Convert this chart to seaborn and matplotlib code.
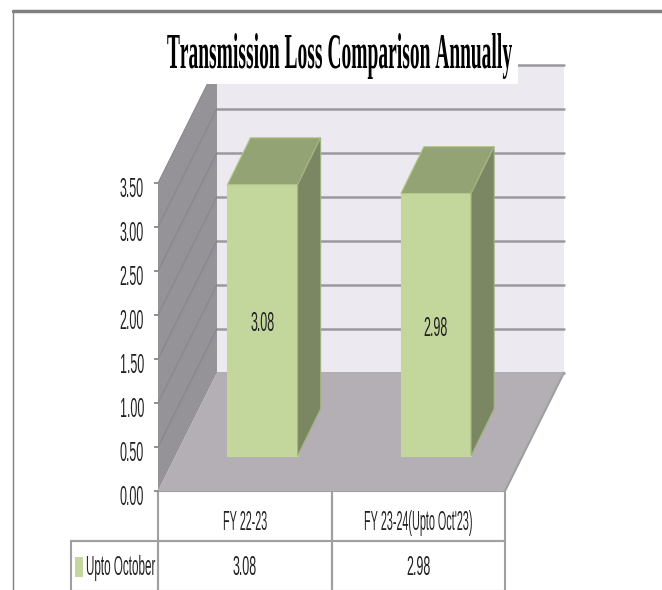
import os
import tempfile

import pandas as pd
import seaborn as sns
import matplotlib.pyplot as plt
from fontTools.ttLib import TTFont
from matplotlib import font_manager
from matplotlib.font_manager import FontProperties
from matplotlib.lines import Line2D
from matplotlib.patches import Polygon, Rectangle
from matplotlib.transforms import Affine2D, ScaledTranslation

title = "Transmission Loss Comparison Annually"
categories = ["FY 22-23", "FY 23-24(Upto Oct'23)"]
values = [3.08, 2.98]
value_labels = ["3.08", "2.98"]
series_name = "Upto October"
y_ticks = [0.0, 0.5, 1.0, 1.5, 2.0, 2.5, 3.0, 3.5]

# fake 3D depth, in data units
WALL_DX, WALL_DY = 0.34, 1.345
BAR_DX, BAR_DY = 0.133, 0.534
BAR_BASE = 0.40
BAR_W = 0.405

FW, FH = 662, 590


def squeezed_font(prop, sx):
    # the original text is squashed sideways, no installed font is that narrow
    font = TTFont(font_manager.findfont(prop))
    glyf, hmtx = font["glyf"], font["hmtx"]
    for name in font.getGlyphOrder():
        glyph = glyf[name]
        if glyph.isComposite():
            for comp in glyph.components:
                comp.x = round(comp.x * sx)
        elif glyph.numberOfContours > 0:
            glyph.coordinates.scale((sx, 1))
            glyph.coordinates.toInt()
        adv, lsb = hmtx[name]
        hmtx[name] = (round(adv * sx), round(lsb * sx))
    for tag in ("kern", "GPOS", "fpgm", "prep", "cvt ", "hdmx", "VDMX", "LTSH"):
        if tag in font:
            del font[tag]
    path = os.path.join(tempfile.mkdtemp(), "squeezed.ttf")
    font.save(path)
    return path


sans = FontProperties(family="Liberation Sans")
label_font = FontProperties(fname=squeezed_font(sans, 0.45), size=20)
series_font = FontProperties(fname=squeezed_font(sans, 0.42), size=20)
header_font = FontProperties(fname=squeezed_font(sans, 0.39), size=20)
title_font = FontProperties(fname=squeezed_font(FontProperties(family="Liberation Serif", weight="bold"), 0.39),
                            size=36)

sns.set_style("white")

fig = plt.figure(figsize=(FW / 100, FH / 100), dpi=100)
ax = fig.add_axes([158 / FW, 1 - 491 / FH, 347 / FW, 308 / FH])
ax.patch.set_alpha(0)

df = pd.DataFrame({"category": categories, "value": values})
sns.barplot(data=df, x="category", y="value", color="#c3d69b", saturation=1,
            width=BAR_W, bottom=BAR_BASE, edgecolor="#c3d69b", linewidth=0.8,
            zorder=5, ax=ax)

x0, x1 = -0.602, 1.398
y0, y1 = 0, y_ticks[-1]
ax.set_xlim(x0, x1)
ax.set_ylim(y0, y1)

# walls and floor
ax.add_patch(Polygon([(x0 + WALL_DX, WALL_DY), (x1 + WALL_DX, WALL_DY),
                      (x1 + WALL_DX, y1 + WALL_DY), (x0 + WALL_DX, y1 + WALL_DY)],
                     fc="#ece9f1", ec="none", clip_on=False, zorder=1))
ax.add_patch(Polygon([(x0, y0), (x0 + WALL_DX, WALL_DY),
                      (x0 + WALL_DX, y1 + WALL_DY), (x0, y1)],
                     fc="#959398", ec="none", clip_on=False, zorder=1))
ax.add_patch(Polygon([(x0, y0), (x1, y0), (x1 + WALL_DX, WALL_DY), (x0 + WALL_DX, WALL_DY)],
                     fc="#b3afb4", ec="none", clip_on=False, zorder=2))
ax.plot([x1, x1 + WALL_DX], [y0, WALL_DY], color="#a0a0a0", lw=1.5, clip_on=False, zorder=3)

# gridlines, back wall then side wall
for t in y_ticks:
    ax.plot([x0 + WALL_DX, x1 + WALL_DX], [t + WALL_DY, t + WALL_DY], color="#9a9a9e",
            lw=1.8, clip_on=False, zorder=1.5)
    if t > 0:
        ax.plot([x0, x0 + WALL_DX], [t, t + WALL_DY], color="#86848a", lw=0.7,
                clip_on=False, zorder=1.5)

# top and side faces of the bars
for bar in ax.containers[0]:
    l, b = bar.get_x(), bar.get_y()
    r, t = l + bar.get_width(), b + bar.get_height()
    ax.add_patch(Polygon([(l, t), (r, t), (r + BAR_DX, t + BAR_DY), (l + BAR_DX, t + BAR_DY)],
                         fc="#94a374", ec="#b5c88d", lw=0.8, clip_on=False, zorder=6))
    ax.add_patch(Polygon([(r, b), (r + BAR_DX, b + BAR_DY), (r + BAR_DX, t + BAR_DY), (r, t)],
                         fc="#7b8762", ec="#a3b47f", lw=0.8, clip_on=False, zorder=6))

for txt in ax.bar_label(ax.containers[0], labels=value_labels, label_type="center",
                        fontproperties=label_font, color="#222222", zorder=7):
    txt.xyann = (0, -3)

ax.set_xlabel("")
ax.set_ylabel("")
ax.set_xticks([])
ax.set_yticks(y_ticks)
ax.set_yticklabels([f"{t:.2f}" for t in y_ticks], fontproperties=label_font, color="#222222")
ax.tick_params(axis="y", left=True, length=3, width=1.2, color="#808080", pad=7)
# tick labels sit a little below the tick in the original
nudge = ScaledTranslation(0, -3 / 72, fig.dpi_scale_trans)
for lab in ax.get_yticklabels():
    lab.set_transform(lab.get_transform() + nudge)
sns.despine(ax=ax, left=True, bottom=True, right=True, top=True)

# data table under the plot
tbl = ax.table(cellText=[["", categories[0], categories[1]],
                         [series_name, value_labels[0], value_labels[1]]],
               colWidths=[87, 173.5, 173.5], cellLoc="center",
               bbox=[-87 / 347, -100 / 308, 434 / 347, 100 / 308])
tbl.auto_set_font_size(False)
for (row, col), cell in tbl.get_celld().items():
    cell.set_edgecolor("#a0a0a0")
    cell.set_linewidth(1.5)
    cell.get_text().set_fontproperties(label_font if row else header_font)
    cell.get_text().set_color("#222222")
    cell.set_facecolor("none")
    # cell text is placed in pixels, move it down in its row
    cell.get_text().set_transform(Affine2D().translate(0, -2 if row else -7))
tbl[(0, 0)].visible_edges = "B"
tbl[(1, 0)].get_text().set_fontproperties(series_font)
tbl[(1, 0)]._loc = "right"
tbl[(1, 0)].get_text().set_ha("right")
tbl[(1, 0)].PAD = 0.03
ax.add_patch(Rectangle((-83 / 347, -86 / 308), 8 / 347, 20 / 308, transform=ax.transAxes,
                       fc="#c3d69b", ec="none", clip_on=False, zorder=8))

# white box behind the title, cuts into the wall
fig.add_artist(Rectangle((167 / FW, 1 - 84 / FH), 351 / FW, 52 / FH, fc="white", ec="none", zorder=5))
fig.text(340 / FW, 1 - 68 / FH, title, ha="center", va="baseline", fontproperties=title_font,
         color="black", zorder=6)

# outer frame of the slide
fig.add_artist(Line2D([13 / FW, 1], [1 - 11 / FH, 1 - 11 / FH], color="#808080", lw=2.5))
fig.add_artist(Line2D([13 / FW, 13 / FW], [0, 1 - 11 / FH], color="#808080", lw=1))

fig.savefig("out.png", dpi=100)
